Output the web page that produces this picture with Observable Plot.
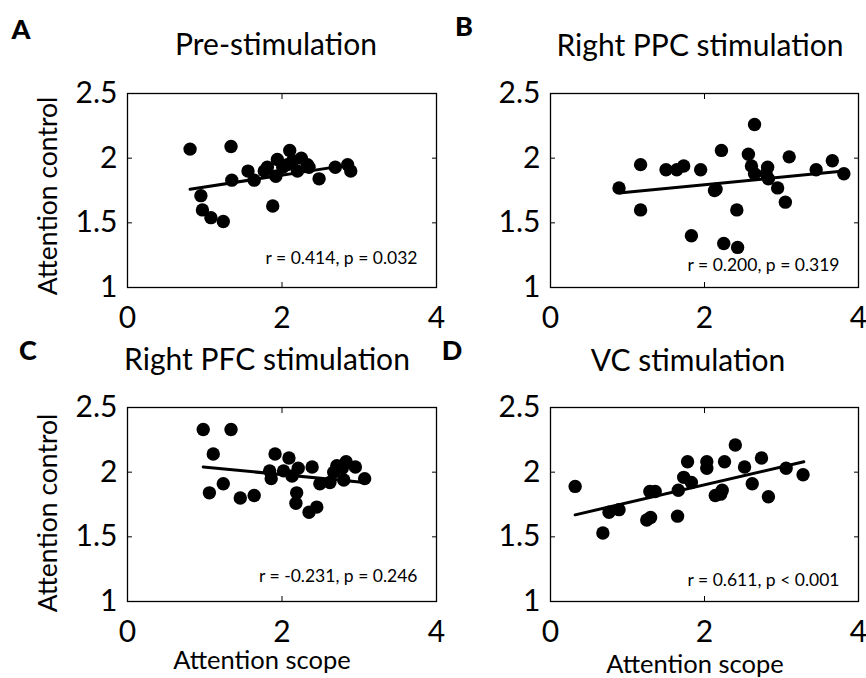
<!DOCTYPE html>
<html>
<head>
<meta charset="utf-8">
<script src="https://cdn.jsdelivr.net/npm/d3@7"></script>
<script src="https://cdn.jsdelivr.net/npm/@observablehq/plot@0.6"></script>
<style>
  html, body { margin: 0; padding: 0; background: #fff; }
  #chart { position: relative; width: 866px; height: 678px; background: #fff; font-family: Lato, "Open Sans", sans-serif; color: #000; overflow: hidden; }
  .lbl { position: absolute; white-space: nowrap; line-height: 1; }
  .plot { position: absolute; }
</style>
</head>
<body>
<div id="chart"></div>
<script>
// ---- tick values ----
const xTicks = [0, 2, 4];
const yTicks = [1, 1.5, 2, 2.5];

// ---- panel texts ----
const panelLetters = ["A", "B", "C", "D"];
const panelTitles = ["Pre-stimulation", "Right PPC stimulation", "Right PFC stimulation", "VC stimulation"];
const statLabels = ["r = 0.414, p = 0.032", "r = 0.200, p = 0.319", "r = -0.231, p = 0.246", "r = 0.611, p < 0.001"];
const xAxisTitle = "Attention scope";
const yAxisTitle = "Attention control";

// ---- A: Pre-stimulation ----
const preScope   = [0.81, 1.34, 0.95, 0.97, 1.08, 1.24, 1.35, 1.56, 1.64, 1.77, 1.81, 1.92, 1.94, 1.88, 2.10, 2.14, 2.20, 2.25, 2.33, 2.35, 2.48, 2.69, 2.85, 2.89, 2.07, 2.01];
const preControl = [2.07, 2.09, 1.71, 1.60, 1.54, 1.51, 1.83, 1.90, 1.83, 1.90, 1.93, 1.86, 1.99, 1.63, 2.06, 1.98, 1.90, 2.00, 1.95, 1.93, 1.84, 1.93, 1.95, 1.90, 1.95, 1.93];
const preFitX = [0.81, 2.89];
const preFitY = [1.76, 1.95];

// ---- B: Right PPC stimulation ----
const ppcScope   = [0.89, 1.17, 1.17, 1.50, 1.64, 1.73, 1.95, 1.83, 2.13, 2.22, 2.25, 2.43, 2.42, 2.65, 2.57, 2.61, 2.65, 2.82, 2.83, 2.95, 3.05, 3.10, 3.45, 3.66, 3.81, 2.80, 2.15];
const ppcControl = [1.77, 1.95, 1.60, 1.91, 1.91, 1.94, 1.91, 1.40, 1.75, 2.06, 1.34, 1.31, 1.60, 2.26, 2.03, 1.94, 1.88, 1.93, 1.84, 1.77, 1.66, 2.01, 1.91, 1.98, 1.88, 1.88, 1.76];
const ppcFitX = [0.89, 3.81];
const ppcFitY = [1.73, 1.90];

// ---- C: Right PFC stimulation ----
const pfcScope   = [0.98, 1.34, 1.11, 1.06, 1.24, 1.46, 1.64, 1.84, 1.86, 1.91, 2.02, 2.09, 2.13, 2.21, 2.19, 2.18, 2.35, 2.45, 2.39, 2.49, 2.62, 2.67, 2.71, 2.80, 2.83, 2.95, 3.07, 2.78];
const pfcControl = [2.33, 2.33, 2.14, 1.84, 1.91, 1.80, 1.82, 2.01, 1.95, 2.14, 2.01, 2.11, 1.97, 2.03, 1.84, 1.76, 1.69, 1.73, 2.04, 1.91, 1.92, 2.00, 2.05, 1.94, 2.08, 2.04, 1.95, 2.03];
const pfcFitX = [0.98, 3.07];
const pfcFitY = [2.04, 1.92];

// ---- D: VC stimulation ----
const vcScope   = [0.32, 0.68, 0.76, 0.89, 1.25, 1.30, 1.29, 1.36, 1.65, 1.66, 1.73, 1.78, 1.83, 2.03, 2.03, 2.14, 2.23, 2.21, 2.26, 2.40, 2.52, 2.62, 2.74, 2.83, 3.06, 3.28];
const vcControl = [1.89, 1.53, 1.69, 1.71, 1.63, 1.65, 1.85, 1.85, 1.66, 1.86, 1.96, 2.08, 1.92, 2.08, 2.03, 1.82, 1.86, 1.83, 2.08, 2.21, 2.04, 1.91, 2.11, 1.81, 2.03, 1.98];
const vcFitX = [0.32, 3.29];
const vcFitY = [1.67, 2.08];

const panels = [
  {scope: preScope, control: preControl, fitX: preFitX, fitY: preFitY},
  {scope: ppcScope, control: ppcControl, fitX: ppcFitX, fitY: ppcFitY},
  {scope: pfcScope, control: pfcControl, fitX: pfcFitX, fitY: pfcFitY},
  {scope: vcScope, control: vcControl, fitX: vcFitX, fitY: vcFitY}
];

// ---- layout (pixels) ----
const layout = [
  {left: 0,   top: 80,  width: 440, marginLeft: 127, marginRight: 4, statDy: -24},
  {left: 440, top: 80,  width: 426, marginLeft: 110, marginRight: 8, statDy: -17},
  {left: 0,   top: 394, width: 440, marginLeft: 127, marginRight: 4, statDy: -20},
  {left: 440, top: 394, width: 426, marginLeft: 110, marginRight: 8, statDy: -16}
];

const chart = document.getElementById("chart");
const fmt = d => String(d);
const blank = () => "";

panels.forEach((p, i) => {
  const L = layout[i];
  const pts = p.scope.map((s, k) => ({scope: s, control: p.control[k]}));
  const fit = p.fitX.map((s, k) => ({scope: s, control: p.fitY[k]}));
  const svg = Plot.plot({
    width: L.width,
    height: 260,
    marginLeft: L.marginLeft,
    marginRight: L.marginRight,
    marginTop: 13,
    marginBottom: 53,
    x: {domain: [0, 4]},
    y: {domain: [1, 2.5]},
    style: {fontFamily: "Lato, 'Open Sans', sans-serif", background: "transparent", overflow: "visible", color: "black"},
    marks: [
      Plot.axisX(xTicks, {anchor: "bottom", tickSize: 0, tickPadding: 19, fontSize: 30, tickFormat: fmt, label: null}),
      Plot.axisX(xTicks, {anchor: "bottom", tickSize: -5, tickFormat: blank, label: null}),
      Plot.axisX(xTicks, {anchor: "top", tickSize: -5, tickFormat: blank, label: null}),
      Plot.axisY(yTicks, {anchor: "left", tickSize: 0, tickPadding: 10, fontSize: 30, tickFormat: fmt, label: null}),
      Plot.axisY(yTicks, {anchor: "left", tickSize: -5, tickFormat: blank, label: null}),
      Plot.axisY(yTicks, {anchor: "right", tickSize: -5, tickFormat: blank, label: null}),
      Plot.frame({stroke: "black", strokeWidth: 1.3}),
      Plot.line(fit, {x: "scope", y: "control", stroke: "black", strokeWidth: 3}),
      Plot.dot(pts, {x: "scope", y: "control", r: 6.7, fill: "black"}),
      Plot.text([statLabels[i]], {frameAnchor: "bottom-right", dx: -19, dy: L.statDy, fontSize: 17.5, textAnchor: "end", fill: "black"})
    ]
  });
  svg.classList.add("plot");
  svg.style.left = L.left + "px";
  svg.style.top = L.top + "px";
  chart.appendChild(svg);
});

function addLabel(text, x, y, opts = {}) {
  const d = document.createElement("div");
  d.className = "lbl";
  d.textContent = text;
  d.style.left = x + "px";
  d.style.top = y + "px";
  d.style.fontSize = (opts.size || 24) + "px";
  if (opts.bold) d.style.fontWeight = "900";
  d.style.transform = opts.transform || "translate(-50%, -50%)";
  chart.appendChild(d);
}

// panel letters
addLabel(panelLetters[0], 21, 28, {size: 27, bold: true});
addLabel(panelLetters[1], 464, 25, {size: 27, bold: true});
addLabel(panelLetters[2], 28, 349, {size: 27, bold: true});
addLabel(panelLetters[3], 452, 349, {size: 27, bold: true});

// titles
addLabel(panelTitles[0], 276, 43, {size: 30});
addLabel(panelTitles[1], 700, 44, {size: 30});
addLabel(panelTitles[2], 267, 358, {size: 30});
addLabel(panelTitles[3], 688, 359, {size: 30});

// axis titles
addLabel(yAxisTitle, 47, 196, {size: 26.5, transform: "translate(-50%, -50%) rotate(-90deg)"});
addLabel(yAxisTitle, 47, 513, {size: 26.5, transform: "translate(-50%, -50%) rotate(-90deg)"});
addLabel(xAxisTitle, 262, 660, {size: 25.5});
addLabel(xAxisTitle, 695, 664, {size: 25.5});
</script>
</body>
</html>
